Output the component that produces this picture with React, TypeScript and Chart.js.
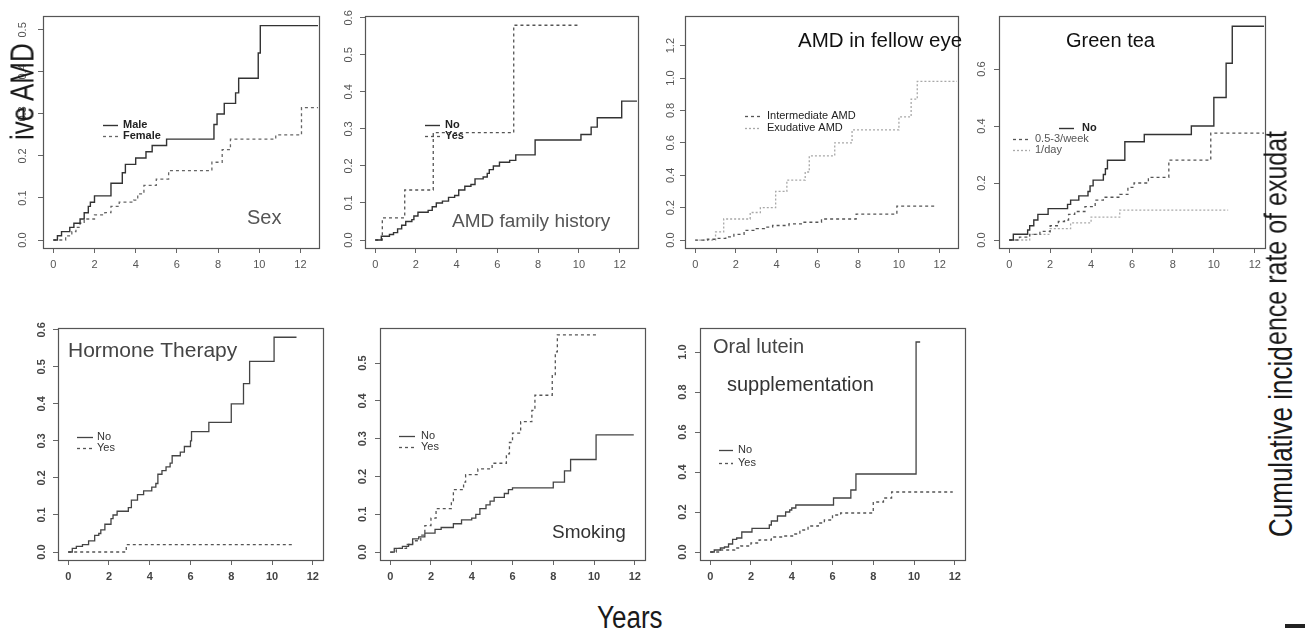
import React, { useEffect, useRef } from "react";
import { Chart, registerables } from "chart.js";

Chart.register(...registerables);

// ---------------- DATA ----------------
const xTicks = [0, 2, 4, 6, 8, 10, 12];

// Panel 1: Sex
const sexTicksY = [0, 0.1, 0.2, 0.3, 0.4, 0.5];
const maleT = [0, 0.2, 0.4, 0.8, 1.0, 1.3, 1.5, 1.7, 1.8, 2.0, 2.8, 3.35, 3.5, 4.0, 4.5, 4.8, 5.5, 7.8, 7.95, 8.3, 8.85, 9.0, 9.95, 10.05, 12.85];
const maleY = [0, 0.01, 0.02, 0.03, 0.04, 0.05, 0.065, 0.08, 0.09, 0.105, 0.135, 0.16, 0.18, 0.195, 0.21, 0.225, 0.24, 0.275, 0.3, 0.325, 0.35, 0.385, 0.445, 0.51, 0.51];
const femaleT = [0, 0.6, 0.9, 1.1, 1.3, 1.5, 2.0, 2.5, 2.8, 3.2, 3.9, 4.1, 4.4, 5.0, 5.6, 7.7, 8.2, 8.6, 10.8, 12.05, 12.85];
const femaleY = [0, 0.01, 0.02, 0.03, 0.04, 0.05, 0.06, 0.065, 0.08, 0.09, 0.095, 0.11, 0.13, 0.145, 0.165, 0.185, 0.215, 0.24, 0.25, 0.315, 0.315];

// Panel 2: AMD family history
const famTicksY = [0, 0.1, 0.2, 0.3, 0.4, 0.5, 0.6];
const famNoT = [0, 0.3, 0.7, 0.9, 1.1, 1.3, 1.5, 1.8, 1.9, 2.1, 2.6, 2.8, 3.0, 3.3, 3.6, 3.9, 4.1, 4.4, 4.7, 4.9, 5.3, 5.5, 5.6, 5.8, 6.1, 6.6, 6.9, 7.85, 10.1, 10.6, 10.9, 12.1, 12.85];
const famNoY = [0, 0.01, 0.015, 0.02, 0.03, 0.04, 0.05, 0.055, 0.065, 0.075, 0.08, 0.09, 0.1, 0.105, 0.115, 0.12, 0.135, 0.145, 0.15, 0.165, 0.17, 0.18, 0.19, 0.2, 0.21, 0.215, 0.23, 0.27, 0.285, 0.305, 0.33, 0.375, 0.375];
const famYesT = [0, 0.35, 1.45, 2.85, 6.8, 9.95];
const famYesY = [0, 0.06, 0.135, 0.29, 0.58, 0.58];

// Panel 3: AMD in fellow eye
const eyeTicksY = [0, 0.2, 0.4, 0.6, 0.8, 1.0, 1.2];
const interT = [0, 0.6, 1.0, 1.5, 1.9, 2.4, 3.0, 3.4, 3.8, 4.6, 5.3, 6.2, 7.9, 9.9, 11.75];
const interY = [0, 0.005, 0.01, 0.02, 0.035, 0.06, 0.07, 0.08, 0.09, 0.1, 0.11, 0.13, 0.16, 0.21, 0.21];
const exuT = [0, 1.0, 1.4, 2.7, 3.2, 3.95, 4.5, 5.4, 5.6, 6.85, 7.7, 10.0, 10.6, 10.9, 12.85];
const exuY = [0, 0.05, 0.13, 0.17, 0.2, 0.3, 0.37, 0.42, 0.52, 0.6, 0.68, 0.76, 0.87, 0.98, 0.98];

// Panel 4: Green tea
const teaTicksY = [0, 0.2, 0.4, 0.6];
const teaNoT = [0, 0.2, 0.9, 1.0, 1.2, 1.4, 1.9, 2.85, 3.0, 3.4, 3.85, 3.95, 4.1, 4.6, 4.7, 4.8, 5.65, 6.6, 8.9, 10.0, 10.6, 10.9, 12.45];
const teaNoY = [0, 0.02, 0.035, 0.05, 0.07, 0.09, 0.11, 0.125, 0.14, 0.155, 0.17, 0.19, 0.21, 0.23, 0.25, 0.28, 0.345, 0.37, 0.4, 0.5, 0.62, 0.75, 0.75];
const teaWeekT = [0, 0.5, 1.0, 1.5, 2.0, 2.4, 2.7, 2.9, 3.2, 3.7, 4.2, 4.6, 5.4, 5.8, 6.1, 6.8, 7.8, 9.85, 12.45];
const teaWeekY = [0, 0.01, 0.02, 0.03, 0.05, 0.065, 0.07, 0.09, 0.1, 0.117, 0.14, 0.15, 0.16, 0.185, 0.2, 0.22, 0.28, 0.375, 0.375];
const teaDayT = [0, 1.0, 2.0, 3.0, 4.0, 5.4, 10.7];
const teaDayY = [0, 0.02, 0.04, 0.06, 0.08, 0.105, 0.105];

// Panel 5: Hormone Therapy
const horTicksY = [0, 0.1, 0.2, 0.3, 0.4, 0.5, 0.6];
const horNoT = [0, 0.2, 0.4, 0.7, 1.0, 1.3, 1.5, 1.6, 1.8, 2.1, 2.2, 2.4, 2.95, 3.1, 3.4, 3.7, 4.1, 4.3, 4.4, 4.6, 4.8, 5.0, 5.1, 5.5, 5.7, 6.0, 6.05, 6.9, 8.0, 8.6, 8.9, 10.1, 11.2];
const horNoY = [0, 0.01, 0.015, 0.02, 0.03, 0.045, 0.05, 0.06, 0.075, 0.09, 0.1, 0.11, 0.12, 0.14, 0.155, 0.165, 0.175, 0.185, 0.21, 0.22, 0.23, 0.24, 0.26, 0.27, 0.285, 0.3, 0.325, 0.35, 0.4, 0.455, 0.515, 0.58, 0.58];
const horYesT = [0, 2.85, 11.0];
const horYesY = [0, 0.02, 0.02];

// Panel 6: Smoking
const smkTicksY = [0, 0.1, 0.2, 0.3, 0.4, 0.5];
const smkNoT = [0, 0.2, 0.6, 0.9, 1.1, 1.4, 1.7, 2.2, 2.5, 3.1, 3.5, 4.0, 4.2, 4.4, 4.7, 4.9, 5.1, 5.6, 5.8, 6.0, 8.0, 8.55, 8.85, 10.1, 11.95];
const smkNoY = [0, 0.01, 0.015, 0.02, 0.035, 0.04, 0.05, 0.06, 0.065, 0.075, 0.085, 0.09, 0.1, 0.115, 0.125, 0.135, 0.145, 0.155, 0.165, 0.17, 0.185, 0.215, 0.245, 0.31, 0.31];
const smkYesT = [0, 0.3, 0.8, 1.1, 1.5, 1.7, 2.0, 2.25, 3.0, 3.1, 3.6, 3.7, 4.3, 5.0, 5.7, 5.85, 6.0, 6.4, 6.95, 7.1, 7.95, 8.1, 8.2, 10.1];
const smkYesY = [0, 0.01, 0.02, 0.03, 0.045, 0.07, 0.09, 0.115, 0.13, 0.165, 0.185, 0.205, 0.22, 0.235, 0.26, 0.29, 0.315, 0.345, 0.375, 0.415, 0.47, 0.53, 0.575, 0.575];

// Panel 7: Oral lutein supplementation
const lutTicksY = [0, 0.2, 0.4, 0.6, 0.8, 1.0];
const lutNoT = [0, 0.2, 0.5, 0.7, 0.9, 1.1, 1.3, 1.55, 2.05, 2.9, 3.0, 3.3, 3.7, 3.9, 4.0, 4.2, 6.05, 6.9, 7.15, 10.1, 10.3];
const lutNoY = [0, 0.01, 0.02, 0.025, 0.04, 0.063, 0.07, 0.1, 0.118, 0.135, 0.155, 0.18, 0.2, 0.21, 0.22, 0.235, 0.27, 0.31, 0.39, 1.05, 1.05];
const lutYesT = [0, 0.5, 1.2, 1.5, 2.0, 2.4, 3.0, 3.5, 4.1, 4.4, 4.8, 5.3, 5.6, 6.0, 6.4, 8.0, 8.5, 8.9, 11.9];
const lutYesY = [0, 0.01, 0.02, 0.03, 0.045, 0.06, 0.075, 0.08, 0.09, 0.11, 0.13, 0.145, 0.16, 0.185, 0.195, 0.25, 0.27, 0.3, 0.3];

// ---------------- LAYOUT / STYLE ----------------
const FONT = "'Liberation Sans', Arial, Helvetica, sans-serif";
const AX_W = 30;
const AX_H = 30;
const PAD_T = 6;
const PAD_R = 8;

const SOLID: number[] = [];
const DASH = [3, 3];
const DOT = [2, 2];

type Series = { label: string; t: number[]; y: number[]; color: string; dash: number[]; width: number };
type LegendItem = { s: number; x1: number; x2: number; tx: number; y: number; font: string; color: string };
type TitleItem = { text: string; x: number; y: number; font: string; color: string };
type PanelCfg = {
  id: string;
  left: number; top: number; right: number; bottom: number;
  xMin: number; xMax: number; yMin: number; yMax: number;
  yTicks: number[];
  series: Series[];
  legend: LegendItem[];
  titles: TitleItem[];
  tickFont: string; tickColor: string; yLabelOffset: number;
};

const topTick = `11px ${FONT}`;
const botTick = `bold 11px ${FONT}`;
const legBold = `bold 11px ${FONT}`;
const legNorm = `11px ${FONT}`;

const panels: PanelCfg[] = [
  {
    id: "sex", left: 43, top: 16, right: 319, bottom: 248,
    xMin: -0.5, xMax: 12.9, yMin: -0.019, yMax: 0.533, yTicks: sexTicksY,
    series: [
      { label: "Male", t: maleT, y: maleY, color: "#333", dash: SOLID, width: 1.4 },
      { label: "Female", t: femaleT, y: femaleY, color: "#666", dash: DASH, width: 1.3 },
    ],
    legend: [
      { s: 0, x1: 103, x2: 118, tx: 123, y: 125, font: legBold, color: "#222" },
      { s: 1, x1: 103, x2: 118, tx: 123, y: 136, font: legBold, color: "#222" },
    ],
    titles: [{ text: "Sex", x: 247, y: 224, font: `20px ${FONT}`, color: "#555" }],
    tickFont: topTick, tickColor: "#555", yLabelOffset: 20,
  },
  {
    id: "fam", left: 365, top: 16, right: 638, bottom: 248,
    xMin: -0.5, xMax: 12.9, yMin: -0.0216, yMax: 0.605, yTicks: famTicksY,
    series: [
      { label: "No", t: famNoT, y: famNoY, color: "#333", dash: SOLID, width: 1.4 },
      { label: "Yes", t: famYesT, y: famYesY, color: "#555", dash: DASH, width: 1.3 },
    ],
    legend: [
      { s: 0, x1: 425, x2: 440, tx: 445, y: 125, font: legBold, color: "#222" },
      { s: 1, x1: 425, x2: 440, tx: 445, y: 136, font: legBold, color: "#222" },
    ],
    titles: [{ text: "AMD family history", x: 452, y: 227, font: `19px ${FONT}`, color: "#555" }],
    tickFont: topTick, tickColor: "#555", yLabelOffset: 16,
  },
  {
    id: "eye", left: 685, top: 16, right: 958, bottom: 248,
    xMin: -0.5, xMax: 12.9, yMin: -0.049, yMax: 1.383, yTicks: eyeTicksY,
    series: [
      { label: "Intermediate AMD", t: interT, y: interY, color: "#555", dash: DASH, width: 1.3 },
      { label: "Exudative AMD", t: exuT, y: exuY, color: "#a8a8a8", dash: DOT, width: 1.3 },
    ],
    legend: [
      { s: 0, x1: 745, x2: 761, tx: 767, y: 116, font: legNorm, color: "#222" },
      { s: 1, x1: 745, x2: 761, tx: 767, y: 128, font: legNorm, color: "#222" },
    ],
    titles: [{ text: "AMD in fellow eye", x: 798, y: 47, font: `20.5px ${FONT}`, color: "#111" }],
    tickFont: topTick, tickColor: "#555", yLabelOffset: 14,
  },
  {
    id: "tea", left: 999, top: 16, right: 1265, bottom: 248,
    xMin: -0.5, xMax: 12.5, yMin: -0.028, yMax: 0.786, yTicks: teaTicksY,
    series: [
      { label: "No", t: teaNoT, y: teaNoY, color: "#333", dash: SOLID, width: 1.4 },
      { label: "0.5-3/week", t: teaWeekT, y: teaWeekY, color: "#555", dash: DASH, width: 1.3 },
      { label: "1/day", t: teaDayT, y: teaDayY, color: "#aaa", dash: DOT, width: 1.3 },
    ],
    legend: [
      { s: 0, x1: 1059, x2: 1074, tx: 1082, y: 128, font: legBold, color: "#222" },
      { s: 1, x1: 1013, x2: 1030, tx: 1035, y: 139, font: legNorm, color: "#555" },
      { s: 2, x1: 1013, x2: 1030, tx: 1035, y: 150, font: legNorm, color: "#555" },
    ],
    titles: [{ text: "Green tea", x: 1066, y: 47, font: `20px ${FONT}`, color: "#111" }],
    tickFont: topTick, tickColor: "#555", yLabelOffset: 17,
  },
  {
    id: "hor", left: 58, top: 328, right: 323, bottom: 560,
    xMin: -0.5, xMax: 12.5, yMin: -0.0216, yMax: 0.605, yTicks: horTicksY,
    series: [
      { label: "No", t: horNoT, y: horNoY, color: "#444", dash: SOLID, width: 1.3 },
      { label: "Yes", t: horYesT, y: horYesY, color: "#555", dash: DASH, width: 1.3 },
    ],
    legend: [
      { s: 0, x1: 77, x2: 93, tx: 97, y: 437, font: legNorm, color: "#333" },
      { s: 1, x1: 77, x2: 93, tx: 97, y: 448, font: legNorm, color: "#333" },
    ],
    titles: [{ text: "Hormone Therapy", x: 68, y: 357, font: `21px ${FONT}`, color: "#444" }],
    tickFont: botTick, tickColor: "#444", yLabelOffset: 16,
  },
  {
    id: "smk", left: 380, top: 328, right: 645, bottom: 560,
    xMin: -0.5, xMax: 12.5, yMin: -0.021, yMax: 0.593, yTicks: smkTicksY,
    series: [
      { label: "No", t: smkNoT, y: smkNoY, color: "#444", dash: SOLID, width: 1.3 },
      { label: "Yes", t: smkYesT, y: smkYesY, color: "#555", dash: DASH, width: 1.3 },
    ],
    legend: [
      { s: 0, x1: 399, x2: 415, tx: 421, y: 436, font: legNorm, color: "#333" },
      { s: 1, x1: 399, x2: 415, tx: 421, y: 447, font: legNorm, color: "#333" },
    ],
    titles: [{ text: "Smoking", x: 552, y: 538, font: `19px ${FONT}`, color: "#333" }],
    tickFont: botTick, tickColor: "#444", yLabelOffset: 17,
  },
  {
    id: "lut", left: 700, top: 328, right: 965, bottom: 560,
    xMin: -0.5, xMax: 12.5, yMin: -0.04, yMax: 1.12, yTicks: lutTicksY,
    series: [
      { label: "No", t: lutNoT, y: lutNoY, color: "#444", dash: SOLID, width: 1.3 },
      { label: "Yes", t: lutYesT, y: lutYesY, color: "#555", dash: DASH, width: 1.3 },
    ],
    legend: [
      { s: 0, x1: 719, x2: 733, tx: 738, y: 450, font: legNorm, color: "#333" },
      { s: 1, x1: 719, x2: 733, tx: 738, y: 463, font: legNorm, color: "#333" },
    ],
    titles: [
      { text: "Oral lutein", x: 713, y: 353, font: `20px ${FONT}`, color: "#444" },
      { text: "supplementation", x: 727, y: 391, font: `20px ${FONT}`, color: "#333" },
    ],
    tickFont: botTick, tickColor: "#444", yLabelOffset: 17,
  },
];

function makeDecor(p: PanelCfg) {
  const ox = p.left - AX_W;
  const oy = p.top - PAD_T;
  return {
    id: "decor_" + p.id,
    afterDraw(chart: any) {
      const ctx: CanvasRenderingContext2D = chart.ctx;
      const ca = chart.chartArea;
      ctx.save();
      // plot box
      ctx.setLineDash([]);
      ctx.strokeStyle = "#555";
      ctx.lineWidth = 1.2;
      const l = Math.round(ca.left) + 0.5;
      const t = Math.round(ca.top) + 0.5;
      ctx.strokeRect(l, t, Math.round(ca.right) - Math.round(ca.left), Math.round(ca.bottom) - Math.round(ca.top));
      // rotated y tick labels
      const ys = chart.scales.y;
      ctx.fillStyle = p.tickColor;
      ctx.font = p.tickFont;
      ctx.textAlign = "center";
      ctx.textBaseline = "middle";
      ys.ticks.forEach((tk: any) => {
        const py = ys.getPixelForValue(tk.value);
        ctx.save();
        ctx.translate(ca.left - p.yLabelOffset, py);
        ctx.rotate(-Math.PI / 2);
        ctx.fillText(Number(tk.value).toFixed(1), 0, 0);
        ctx.restore();
      });
      // legend
      p.legend.forEach((e) => {
        const s = p.series[e.s];
        ctx.strokeStyle = s.color;
        ctx.lineWidth = s.width;
        ctx.setLineDash(s.dash);
        ctx.beginPath();
        ctx.moveTo(e.x1 - ox, e.y - oy + 0.5);
        ctx.lineTo(e.x2 - ox, e.y - oy + 0.5);
        ctx.stroke();
        ctx.setLineDash([]);
        ctx.fillStyle = e.color;
        ctx.font = e.font;
        ctx.textAlign = "left";
        ctx.textBaseline = "middle";
        ctx.fillText(s.label, e.tx - ox, e.y - oy);
      });
      // titles
      p.titles.forEach((ti) => {
        ctx.fillStyle = ti.color;
        ctx.font = ti.font;
        ctx.textAlign = "left";
        ctx.textBaseline = "alphabetic";
        ctx.fillText(ti.text, ti.x - ox, ti.y - oy);
      });
      ctx.restore();
    },
  };
}

function PanelChart({ p }: { p: PanelCfg }) {
  const ref = useRef<HTMLCanvasElement>(null);
  const w = p.right - p.left + AX_W + PAD_R;
  const h = p.bottom - p.top + PAD_T + AX_H;
  useEffect(() => {
    const c = ref.current;
    if (!c) return;
    const gridCfg = {
      display: true,
      drawOnChartArea: false,
      drawTicks: true,
      tickLength: 5,
      color: "#666",
      lineWidth: 1,
    };
    const chart = new Chart(c, {
      type: "line",
      data: {
        datasets: p.series.map((s) => ({
          label: s.label,
          data: s.t.map((x, i) => ({ x, y: s.y[i] })),
          borderColor: s.color,
          borderWidth: s.width,
          borderDash: s.dash,
          stepped: true,
          fill: false,
          pointRadius: 0,
          tension: 0,
        })),
      },
      options: {
        animation: false,
        responsive: false,
        maintainAspectRatio: false,
        devicePixelRatio: 1,
        layout: { padding: { top: PAD_T, right: PAD_R, left: 0, bottom: 0 } },
        plugins: {
          legend: { display: false },
          tooltip: { enabled: false },
          title: { display: false },
        },
        scales: {
          x: {
            type: "linear",
            min: p.xMin,
            max: p.xMax,
            afterBuildTicks: (s: any) => {
              s.ticks = xTicks.map((v) => ({ value: v }));
            },
            afterFit: (s: any) => {
              s.height = AX_H;
            },
            grid: gridCfg,
            border: { display: false },
            ticks: {
              autoSkip: false,
              maxRotation: 0,
              minRotation: 0,
              padding: 5,
              color: p.tickColor,
              font: {
                family: FONT,
                size: 11,
                weight: p.tickFont.startsWith("bold") ? "bold" : "normal",
              },
              callback: (v: any) => String(v),
            },
          },
          y: {
            type: "linear",
            min: p.yMin,
            max: p.yMax,
            afterBuildTicks: (s: any) => {
              s.ticks = p.yTicks.map((v) => ({ value: v }));
            },
            afterFit: (s: any) => {
              s.width = AX_W;
            },
            grid: gridCfg,
            border: { display: false },
            ticks: { display: false },
          },
        },
      } as any,
      plugins: [makeDecor(p)],
    });
    return () => chart.destroy();
  }, [p]);
  return (
    <canvas
      ref={ref}
      width={w}
      height={h}
      style={{ position: "absolute", left: p.left - AX_W, top: p.top - PAD_T, width: w, height: h }}
    />
  );
}

const bigText: React.CSSProperties = {
  position: "absolute",
  fontFamily: FONT,
  fontSize: 26,
  lineHeight: 1,
  whiteSpace: "nowrap",
  color: "#1a1a1a",
};

export default function App() {
  return (
    <div
      style={{
        position: "absolute",
        left: 0,
        top: 0,
        width: 1305,
        height: 628,
        overflow: "hidden",
        background: "#fff",
      }}
    >
      {panels.map((p) => (
        <PanelChart key={p.id} p={p} />
      ))}
      <div
        style={{
          ...bigText,
          left: 6,
          top: 140,
          transformOrigin: "left top",
          transform: "rotate(-90deg) scaleY(1.25)",
        }}
      >
        ive AMD
      </div>
      <div
        style={{
          ...bigText,
          left: 1264,
          top: 537,
          transformOrigin: "left top",
          transform: "rotate(-90deg) scaleY(1.25)",
        }}
      >
        Cumulative incid
      </div>
      <div
        style={{
          ...bigText,
          left: 1260,
          top: 345,
          fontSize: 25,
          transformOrigin: "left top",
          transform: "rotate(-90deg) scaleY(1.25)",
        }}
      >
        ence rate of exudat
      </div>
      <div
        style={{
          ...bigText,
          left: 597,
          top: 602,
          transformOrigin: "left top",
          transform: "scaleY(1.2)",
        }}
      >
        Years
      </div>
      <div style={{ position: "absolute", left: 1285, top: 624, width: 20, height: 4, background: "#222" }} />
    </div>
  );
}
